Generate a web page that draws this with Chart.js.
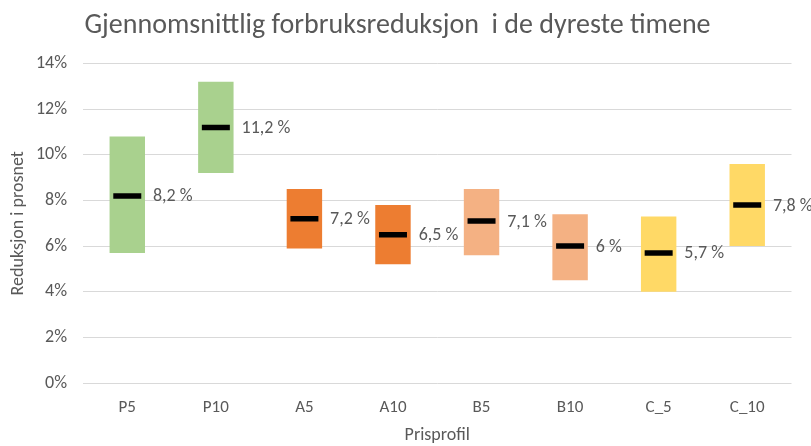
<!DOCTYPE html>
<html>
<head>
<meta charset="utf-8">
<script src="https://cdn.jsdelivr.net/npm/chart.js@4/dist/chart.umd.min.js"></script>
<style>
html,body{margin:0;padding:0;background:#fff;}
#wrap{width:811px;height:446px;position:relative;}
</style>
</head>
<body>
<div id="wrap"><canvas id="c" width="811" height="446"></canvas></div>
<script>
const categories = ['P5','P10','A5','A10','B5','B10','C_5','C_10'];
const lowValues  = [5.7, 9.2, 5.9, 5.2, 5.6, 4.5, 4.0, 6.0];
const highValues = [10.8, 13.2, 8.5, 7.8, 8.5, 7.4, 7.3, 9.6];
const meanValues = [8.2, 11.2, 7.2, 6.5, 7.1, 6.0, 5.7, 7.8];
const barColors  = ['#A9D18E','#A9D18E','#ED7D31','#ED7D31','#F4B183','#F4B183','#FFD966','#FFD966'];
const yTicks = [0,2,4,6,8,10,12,14];

const FONT = 'Carlito, "Liberation Sans Narrow", "Open Sans", sans-serif';
const fmt = v => String(v).replace('.', ',') + ' %';

const labelPlugin = {
  id: 'meanLabels',
  afterDatasetsDraw(chart) {
    const ctx = chart.ctx;
    const meta = chart.getDatasetMeta(0);
    const y = chart.scales.y;
    ctx.save();
    ctx.fillStyle = '#595959';
    ctx.font = '18px ' + FONT;
    ctx.textBaseline = 'middle';
    ctx.textAlign = 'left';
    meta.data.forEach((bar, i) => {
      const right = bar.x + bar.width / 2;
      ctx.fillText(fmt(meanValues[i]), right + 8, y.getPixelForValue(meanValues[i]) + 1);
    });
    ctx.restore();
  }
};

new Chart(document.getElementById('c'), {
  data: {
    labels: categories,
    datasets: [
      {
        type: 'bar',
        data: categories.map((c, i) => [lowValues[i], highValues[i]]),
        backgroundColor: barColors,
        borderWidth: 0,
        barPercentage: 0.4,
        categoryPercentage: 1.0,
        order: 2
      },
      {
        type: 'line',
        data: meanValues,
        showLine: false,
        pointStyle: 'line',
        pointRadius: 14,
        pointHoverRadius: 14,
        pointBorderWidth: 5.5,
        borderColor: '#000',
        backgroundColor: '#000',
        order: 1
      }
    ]
  },
  options: {
    responsive: false,
    animation: false,
    devicePixelRatio: 1,
    layout: { padding: { left: 0, right: 16, top: 4, bottom: 0 } },
    plugins: {
      legend: { display: false },
      tooltip: { enabled: false },
      title: {
        display: true,
        text: 'Gjennomsnittlig forbruksreduksjon  i de dyreste timene',
        color: '#595959',
        font: { family: FONT, size: 28, weight: 'normal' },
        padding: { top: 5, bottom: 21 }
      }
    },
    scales: {
      x: {
        grid: { display: false, drawTicks: false },
        border: { display: false },
        ticks: { color: '#595959', font: { family: FONT, size: 17 }, padding: 15 },
        afterFit(scale) { scale.height = 63; },
        title: {
          display: true, text: 'Prisprofil', color: '#595959',
          font: { family: FONT, size: 18 }, padding: { top: 6, bottom: 0 }
        }
      },
      y: {
        min: 0, max: 14,
        afterBuildTicks(scale) { scale.ticks = yTicks.map(v => ({ value: v })); },
        afterFit(scale) { scale.width = 83; },
        grid: { color: '#D9D9D9', lineWidth: 1, drawTicks: false },
        border: { display: false },
        ticks: { color: '#595959', font: { family: FONT, size: 18 }, padding: 16, callback: v => v + '%' },
        title: {
          display: true, text: 'Reduksjon i prosnet', color: '#595959',
          font: { family: FONT, size: 18 }, padding: { top: 8, bottom: 4 }
        }
      }
    }
  },
  plugins: [labelPlugin]
});
</script>
</body>
</html>
